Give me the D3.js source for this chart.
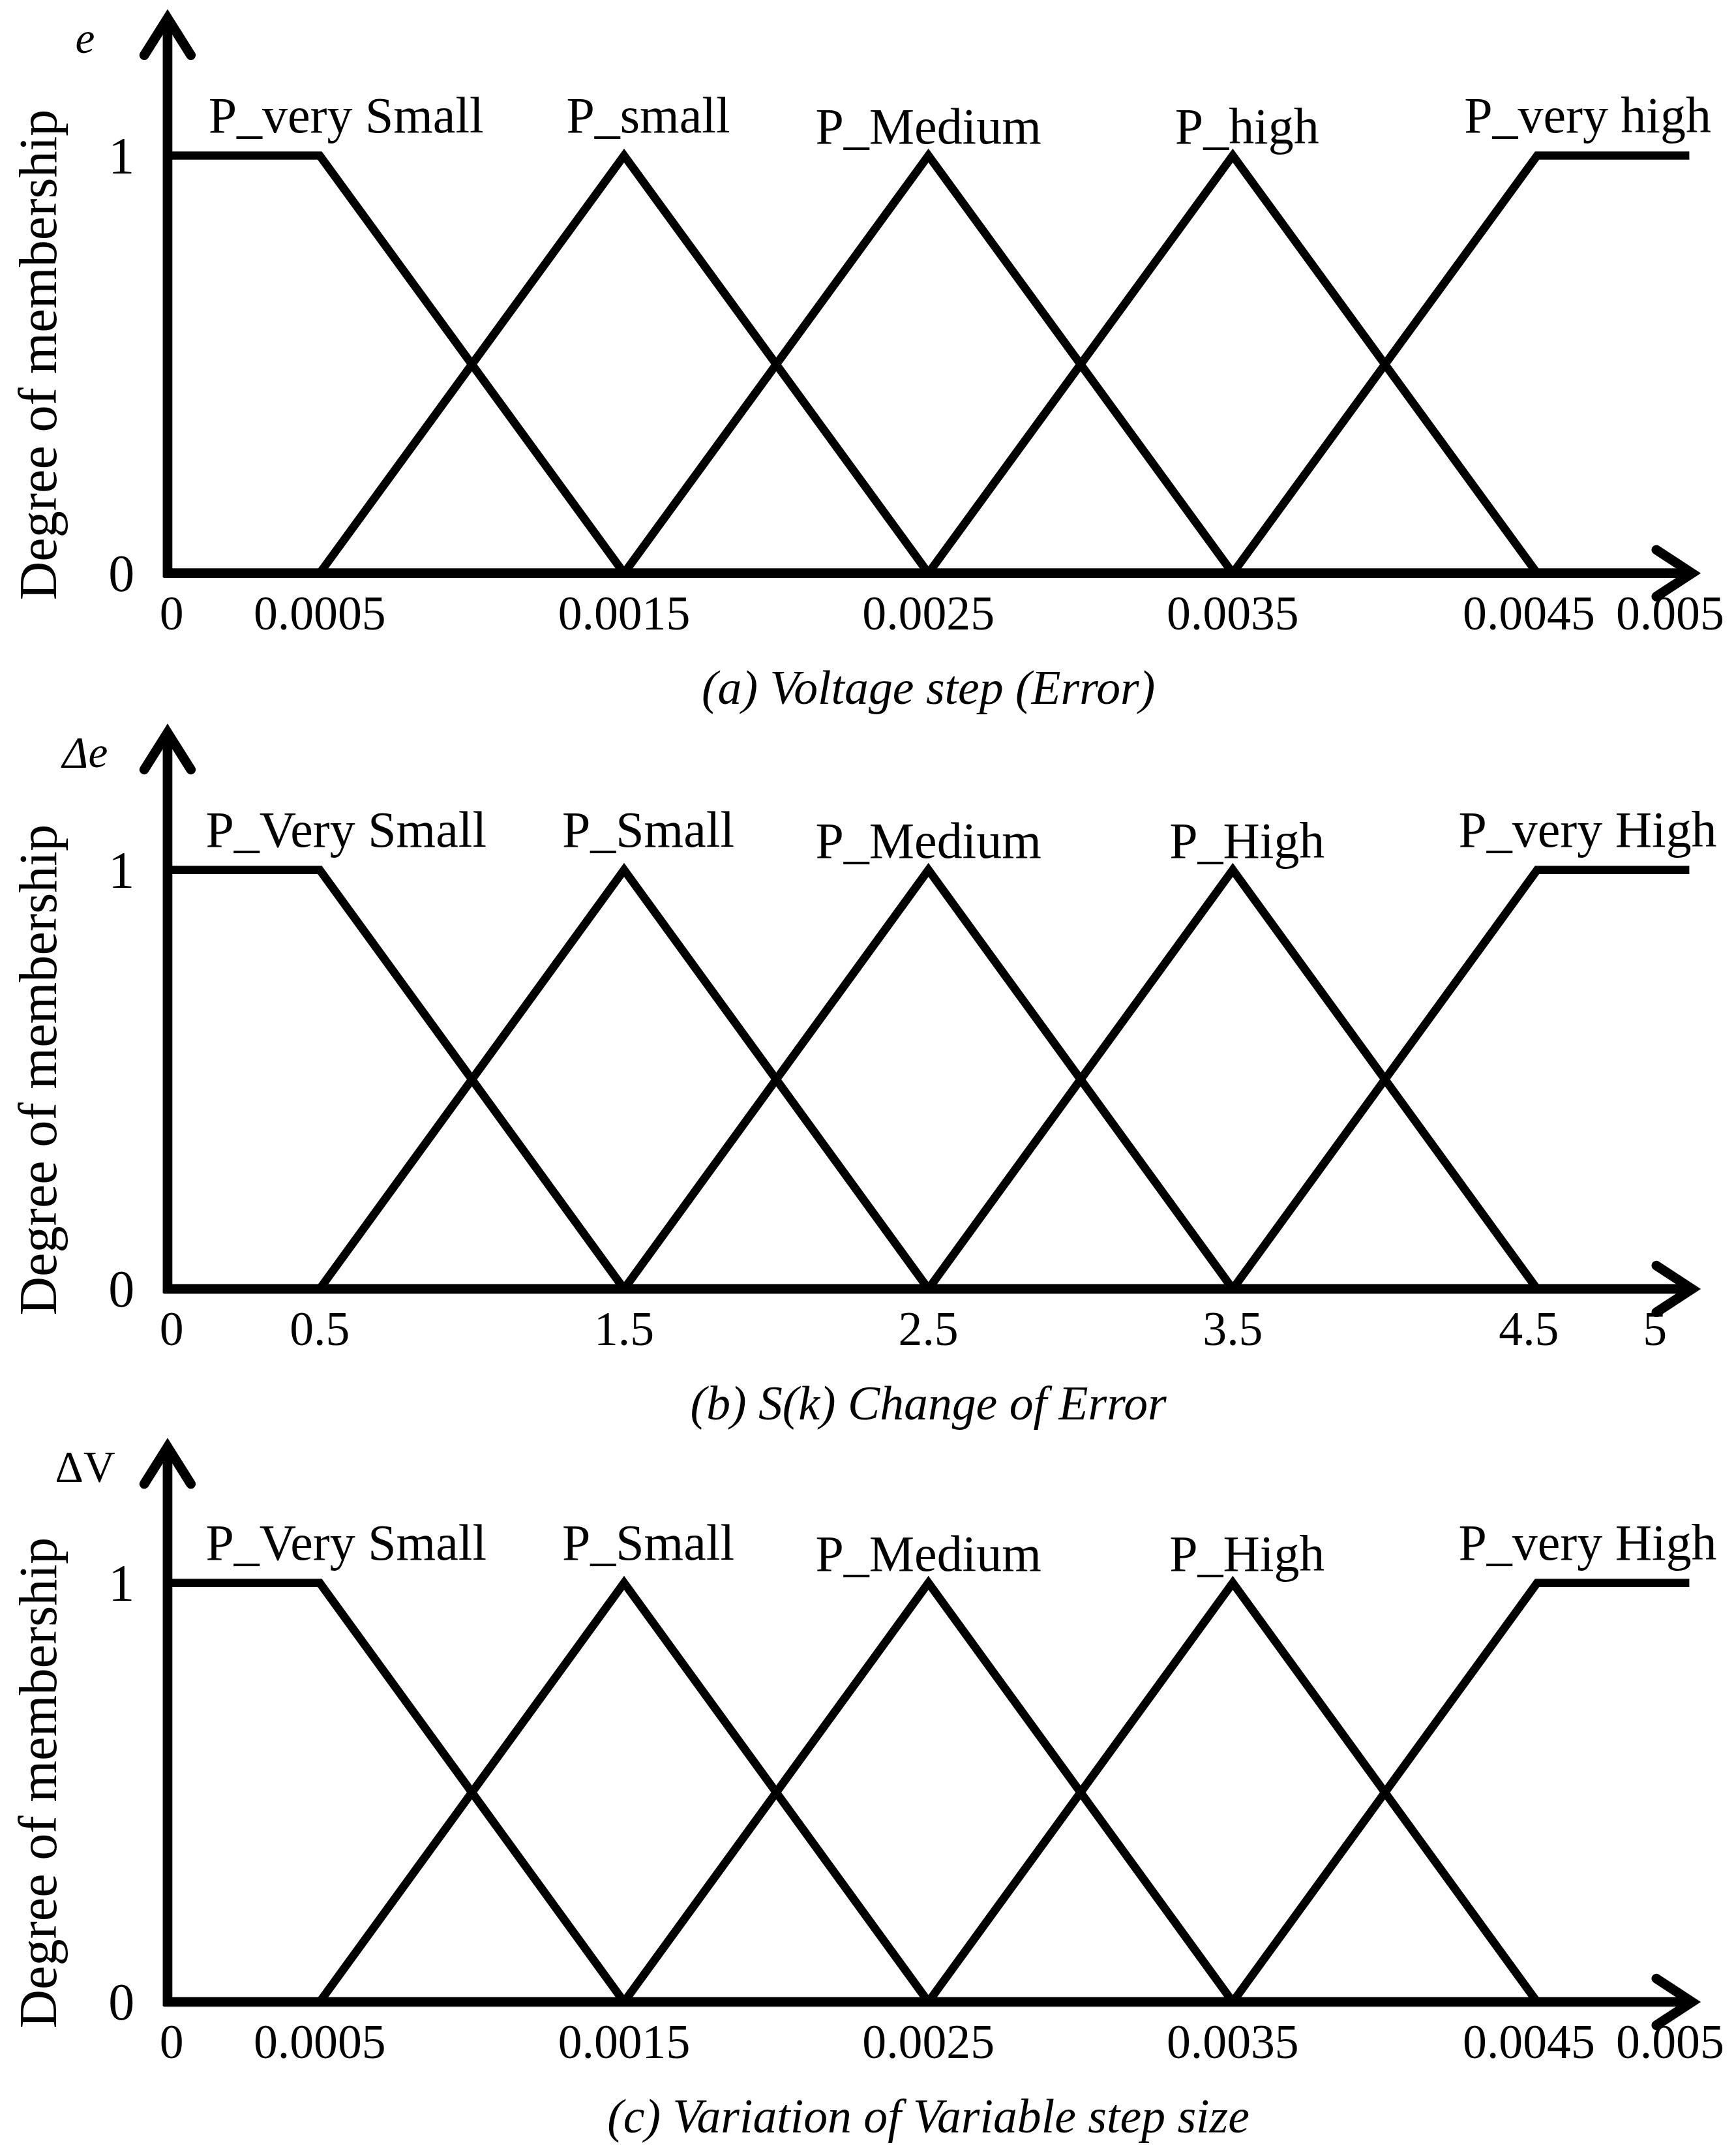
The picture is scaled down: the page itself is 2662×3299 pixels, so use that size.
<!DOCTYPE html><html><head><meta charset="utf-8"><script src="https://d3js.org/d3.v7.min.js"></script>
<style>body{margin:0;background:#fff}</style></head><body><script>
const centers=[0.5,1.5,2.5,3.5,4.5];
const mfX=[[0,0.5,1.5],[0.5,1.5,2.5],[1.5,2.5,3.5],[2.5,3.5,4.5],[3.5,4.5,5]];
const mfY=[[1,1,0],[0,1,0],[0,1,0],[0,1,0],[0,1,1]];
const panels=[
 {sym:"e",symItalic:true,title:"(a) Voltage step (Error)",labels:["P_very Small","P_small","P_Medium","P_high","P_very high"],ticks:["0","0.0005","0.0015","0.0025","0.0035","0.0045","0.005"],top:10,y1:113,y0:417},
 {sym:"Δe",symItalic:true,title:"(b) S(k) Change of Error",labels:["P_Very Small","P_Small","P_Medium","P_High","P_very High"],ticks:["0","0.5","1.5","2.5","3.5","4.5","5"],top:530,y1:633,y0:938},
 {sym:"ΔV",symItalic:false,title:"(c) Variation of Variable step size",labels:["P_Very Small","P_Small","P_Medium","P_High","P_very High"],ticks:["0","0.0005","0.0015","0.0025","0.0035","0.0045","0.005"],top:1050,y1:1152,y0:1457}];
const tickVals=[0,0.5,1.5,2.5,3.5,4.5,5];
const labelDy=[0,0,8,8,0];
const svg=d3.select("body").append("svg").attr("width",2662).attr("height",3299).attr("viewBox","0 0 1264 1566")
 .style("font-family","'Liberation Serif',serif");
const x=d3.scaleLinear().domain([0,5]).range([122,1230]);
panels.forEach(p=>{
 const y=d3.scaleLinear().domain([0,1]).range([p.y0,p.y1]);
 const g=svg.append("g");
 const line=d3.line().x(d=>x(d[0])).y(d=>y(d[1]));
 mfX.forEach((xs,i)=>g.append("path").attr("d",line(xs.map((v,j)=>[v,mfY[i][j]]))).attr("fill","none").attr("stroke","#000").attr("stroke-width",6).attr("stroke-linejoin","miter"));
 g.append("line").attr("x1",122).attr("x2",122).attr("y1",p.y0+3).attr("y2",p.top+4).attr("stroke","#000").attr("stroke-width",7);
 g.append("line").attr("x1",119).attr("x2",1232).attr("y1",p.y0).attr("y2",p.y0).attr("stroke","#000").attr("stroke-width",7);
 g.append("path").attr("d",`M105,${p.top+30} L122,${p.top+3} L139,${p.top+30}`).attr("fill","none").attr("stroke","#000").attr("stroke-width",7).attr("stroke-linecap","round");
 g.append("path").attr("d",`M1206,${p.y0-17} L1232,${p.y0} L1206,${p.y0+17}`).attr("fill","none").attr("stroke","#000").attr("stroke-width",7).attr("stroke-linecap","round");
 g.append("text").attr("x",98).attr("y",y(1)+13).attr("text-anchor","end").attr("font-size",38).text("1");
 g.append("text").attr("x",98).attr("y",y(0)+13).attr("text-anchor","end").attr("font-size",38).text("0");
 tickVals.forEach((t,i)=>g.append("text").attr("x",i==0?125:(i==6?(p.ticks[6]=="5"?1205:1216):(i==5?x(t)-6:x(t)))).attr("y",p.y0+41).attr("text-anchor","middle").attr("font-size",35).text(p.ticks[i]));
 centers.forEach((c,i)=>g.append("text").attr("x",[252,472,676,908,1156][i]).attr("y",p.y1-17+labelDy[i]).attr("text-anchor","middle").attr("font-size",37).text(p.labels[i]));
 g.append("text").attr("x",676).attr("y",p.y0+95).attr("text-anchor","middle").attr("font-size",35).attr("font-style","italic").text(p.title);
 g.append("text").attr("x",62).attr("y",p.top+28).attr("text-anchor","middle").attr("font-size",32).attr("font-style",p.symItalic?"italic":"normal").text(p.sym);
 g.append("text").attr("transform",`translate(41,${(p.y0+p.y1)/2-7}) rotate(-90)`).attr("text-anchor","middle").attr("font-size",39).text("Degree of membership");
});
</script></body></html>
